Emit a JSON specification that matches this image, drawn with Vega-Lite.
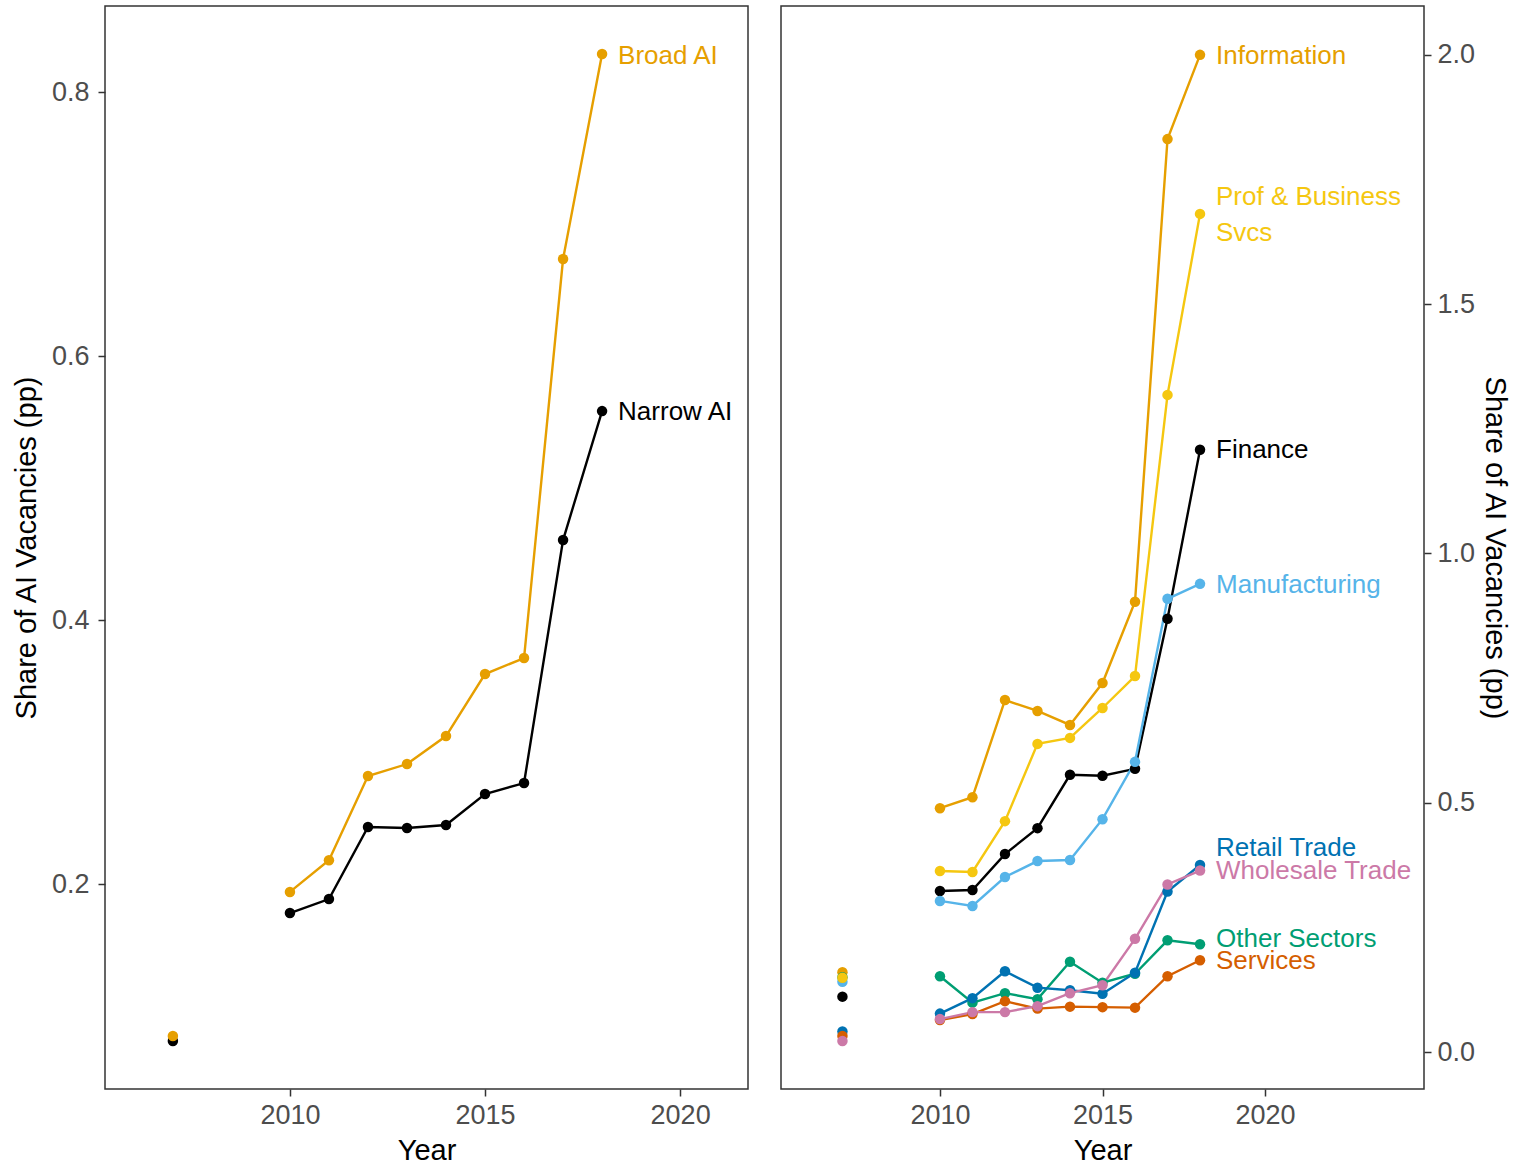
{
  "$schema": "https://vega.github.io/schema/vega-lite/v6.json",
  "padding": {"left": 11, "top": 5, "right": 0, "bottom": 0},
  "spacing": 31,
  "resolve": {"scale": {"color": "independent", "x": "independent", "y": "independent"}},
  "config": {
    "font": "Liberation Sans",
    "view": {"stroke": "#333333", "strokeWidth": 1.5},
    "axis": {
      "grid": false,
      "domain": false,
      "tickColor": "#333333",
      "tickWidth": 1.5,
      "tickSize": 7,
      "labelFont": "Liberation Sans",
      "labelFontSize": 27,
      "labelColor": "#4D4D4D",
      "labelPadding": 6,
      "titleFont": "Liberation Sans",
      "titleFontSize": 29,
      "titleFontWeight": "normal",
      "titleColor": "#000000"
    },
    "text": {"lineBreak": "\n"}
  },
  "datasets": {
    "left": [
      {"series": "Narrow AI", "year": 2007, "value": 0.0811},
      {"series": "Narrow AI", "year": 2010, "value": 0.178},
      {"series": "Narrow AI", "year": 2011, "value": 0.1886},
      {"series": "Narrow AI", "year": 2012, "value": 0.2432},
      {"series": "Narrow AI", "year": 2013, "value": 0.2424},
      {"series": "Narrow AI", "year": 2014, "value": 0.2447},
      {"series": "Narrow AI", "year": 2015, "value": 0.2682},
      {"series": "Narrow AI", "year": 2016, "value": 0.2765},
      {"series": "Narrow AI", "year": 2017, "value": 0.4606},
      {"series": "Narrow AI", "year": 2018, "value": 0.5583},
      {"series": "Broad AI", "year": 2007, "value": 0.0848},
      {"series": "Broad AI", "year": 2010, "value": 0.194},
      {"series": "Broad AI", "year": 2011, "value": 0.218},
      {"series": "Broad AI", "year": 2012, "value": 0.2818},
      {"series": "Broad AI", "year": 2013, "value": 0.2909},
      {"series": "Broad AI", "year": 2014, "value": 0.3121},
      {"series": "Broad AI", "year": 2015, "value": 0.3591},
      {"series": "Broad AI", "year": 2016, "value": 0.3712},
      {"series": "Broad AI", "year": 2017, "value": 0.6735},
      {"series": "Broad AI", "year": 2018, "value": 0.8288}
    ],
    "leftLabels": [
      {"series": "Narrow AI", "year": 2018, "labelValue": 0.5576, "label": "Narrow AI"},
      {"series": "Broad AI", "year": 2018, "labelValue": 0.8273, "label": "Broad AI"}
    ],
    "right": [
      {"series": "Finance", "year": 2007, "value": 0.111},
      {"series": "Finance", "year": 2010, "value": 0.323},
      {"series": "Finance", "year": 2011, "value": 0.325},
      {"series": "Finance", "year": 2012, "value": 0.397},
      {"series": "Finance", "year": 2013, "value": 0.449},
      {"series": "Finance", "year": 2014, "value": 0.556},
      {"series": "Finance", "year": 2015, "value": 0.554},
      {"series": "Finance", "year": 2016, "value": 0.568},
      {"series": "Finance", "year": 2017, "value": 0.869},
      {"series": "Finance", "year": 2018, "value": 1.208},
      {"series": "Information", "year": 2007, "value": 0.160},
      {"series": "Information", "year": 2010, "value": 0.489},
      {"series": "Information", "year": 2011, "value": 0.511},
      {"series": "Information", "year": 2012, "value": 0.706},
      {"series": "Information", "year": 2013, "value": 0.684},
      {"series": "Information", "year": 2014, "value": 0.656},
      {"series": "Information", "year": 2015, "value": 0.740},
      {"series": "Information", "year": 2016, "value": 0.903},
      {"series": "Information", "year": 2017, "value": 1.831},
      {"series": "Information", "year": 2018, "value": 2.0},
      {"series": "Manufacturing", "year": 2007, "value": 0.141},
      {"series": "Manufacturing", "year": 2010, "value": 0.303},
      {"series": "Manufacturing", "year": 2011, "value": 0.293},
      {"series": "Manufacturing", "year": 2012, "value": 0.351},
      {"series": "Manufacturing", "year": 2013, "value": 0.383},
      {"series": "Manufacturing", "year": 2014, "value": 0.385},
      {"series": "Manufacturing", "year": 2015, "value": 0.467},
      {"series": "Manufacturing", "year": 2016, "value": 0.582},
      {"series": "Manufacturing", "year": 2017, "value": 0.909},
      {"series": "Manufacturing", "year": 2018, "value": 0.939},
      {"series": "Other Sectors", "year": 2007, "value": 0.150},
      {"series": "Other Sectors", "year": 2010, "value": 0.152},
      {"series": "Other Sectors", "year": 2011, "value": 0.099},
      {"series": "Other Sectors", "year": 2012, "value": 0.118},
      {"series": "Other Sectors", "year": 2013, "value": 0.106},
      {"series": "Other Sectors", "year": 2014, "value": 0.181},
      {"series": "Other Sectors", "year": 2015, "value": 0.139},
      {"series": "Other Sectors", "year": 2016, "value": 0.157},
      {"series": "Other Sectors", "year": 2017, "value": 0.224},
      {"series": "Other Sectors", "year": 2018, "value": 0.216},
      {"series": "Prof & Business Svcs", "year": 2007, "value": 0.149},
      {"series": "Prof & Business Svcs", "year": 2010, "value": 0.363},
      {"series": "Prof & Business Svcs", "year": 2011, "value": 0.361},
      {"series": "Prof & Business Svcs", "year": 2012, "value": 0.463},
      {"series": "Prof & Business Svcs", "year": 2013, "value": 0.618},
      {"series": "Prof & Business Svcs", "year": 2014, "value": 0.630},
      {"series": "Prof & Business Svcs", "year": 2015, "value": 0.690},
      {"series": "Prof & Business Svcs", "year": 2016, "value": 0.754},
      {"series": "Prof & Business Svcs", "year": 2017, "value": 1.318},
      {"series": "Prof & Business Svcs", "year": 2018, "value": 1.681},
      {"series": "Retail Trade", "year": 2007, "value": 0.041},
      {"series": "Retail Trade", "year": 2010, "value": 0.077},
      {"series": "Retail Trade", "year": 2011, "value": 0.108},
      {"series": "Retail Trade", "year": 2012, "value": 0.162},
      {"series": "Retail Trade", "year": 2013, "value": 0.129},
      {"series": "Retail Trade", "year": 2014, "value": 0.124},
      {"series": "Retail Trade", "year": 2015, "value": 0.117},
      {"series": "Retail Trade", "year": 2016, "value": 0.159},
      {"series": "Retail Trade", "year": 2017, "value": 0.322},
      {"series": "Retail Trade", "year": 2018, "value": 0.375},
      {"series": "Services", "year": 2007, "value": 0.032},
      {"series": "Services", "year": 2010, "value": 0.064},
      {"series": "Services", "year": 2011, "value": 0.076},
      {"series": "Services", "year": 2012, "value": 0.102},
      {"series": "Services", "year": 2013, "value": 0.087},
      {"series": "Services", "year": 2014, "value": 0.091},
      {"series": "Services", "year": 2015, "value": 0.090},
      {"series": "Services", "year": 2016, "value": 0.089},
      {"series": "Services", "year": 2017, "value": 0.152},
      {"series": "Services", "year": 2018, "value": 0.184},
      {"series": "Wholesale Trade", "year": 2007, "value": 0.022},
      {"series": "Wholesale Trade", "year": 2010, "value": 0.066},
      {"series": "Wholesale Trade", "year": 2011, "value": 0.080},
      {"series": "Wholesale Trade", "year": 2012, "value": 0.080},
      {"series": "Wholesale Trade", "year": 2013, "value": 0.092},
      {"series": "Wholesale Trade", "year": 2014, "value": 0.118},
      {"series": "Wholesale Trade", "year": 2015, "value": 0.134},
      {"series": "Wholesale Trade", "year": 2016, "value": 0.227},
      {"series": "Wholesale Trade", "year": 2017, "value": 0.336},
      {"series": "Wholesale Trade", "year": 2018, "value": 0.364}
    ],
    "rightLabels": [
      {"series": "Finance", "year": 2018, "labelValue": 1.208, "label": "Finance"},
      {"series": "Information", "year": 2018, "labelValue": 1.998, "label": "Information"},
      {"series": "Manufacturing", "year": 2018, "labelValue": 0.937, "label": "Manufacturing"},
      {"series": "Other Sectors", "year": 2018, "labelValue": 0.2267, "label": "Other Sectors"},
      {"series": "Prof & Business Svcs", "year": 2018, "labelValue": 1.715, "label": "Prof & Business\nSvcs"},
      {"series": "Retail Trade", "year": 2018, "labelValue": 0.409, "label": "Retail Trade"},
      {"series": "Services", "year": 2018, "labelValue": 0.1825, "label": "Services"},
      {"series": "Wholesale Trade", "year": 2018, "labelValue": 0.363, "label": "Wholesale Trade"}
    ]
  },
  "hconcat": [
    {
      "width": 643,
      "height": 1083,
      "encoding": {
        "x": {
          "field": "year", "type": "quantitative", "title": "Year",
          "scale": {"domain": [2005.26, 2021.74], "nice": false, "zero": false},
          "axis": {"values": [2010, 2015, 2020], "format": "d", "titlePadding": 8}
        },
        "color": {
          "field": "series", "type": "nominal", "legend": null,
          "scale": {"domain": ["Narrow AI", "Broad AI"], "range": ["#000000", "#E69F00"]}
        }
      },
      "layer": [
        {
          "data": {"name": "left"},
          "transform": [{"filter": "datum.year >= 2010"}],
          "mark": {"type": "line", "strokeWidth": 2.4},
          "encoding": {
            "y": {
              "field": "value", "type": "quantitative", "title": "Share of AI Vacancies (pp)",
              "scale": {"domain": [0.0447, 0.8652], "nice": false, "zero": false},
              "axis": {"values": [0.2, 0.4, 0.6, 0.8], "format": ".1f", "labelPadding": 9, "titlePadding": 10}
            },
            "order": {"field": "year"}
          }
        },
        {
          "data": {"name": "left"},
          "mark": {"type": "circle", "size": 110, "opacity": 1},
          "encoding": {"y": {"field": "value", "type": "quantitative"}}
        },
        {
          "data": {"name": "leftLabels"},
          "mark": {"type": "text", "align": "left", "baseline": "middle", "dx": 16, "fontSize": 26},
          "encoding": {
            "y": {"field": "labelValue", "type": "quantitative"},
            "text": {"field": "label"}
          }
        }
      ]
    },
    {
      "width": 643,
      "height": 1083,
      "encoding": {
        "x": {
          "field": "year", "type": "quantitative", "title": "Year",
          "scale": {"domain": [2005.11, 2024.89], "nice": false, "zero": false},
          "axis": {"values": [2010, 2015, 2020], "format": "d", "titlePadding": 8}
        },
        "color": {
          "field": "series", "type": "nominal", "legend": null,
          "scale": {
            "domain": ["Finance", "Information", "Manufacturing", "Other Sectors", "Prof & Business Svcs", "Retail Trade", "Services", "Wholesale Trade"],
            "range": ["#000000", "#E69F00", "#56B4E9", "#009E73", "#F5C710", "#0072B2", "#D55E00", "#CC79A7"]
          }
        }
      },
      "layer": [
        {
          "data": {"name": "right"},
          "transform": [{"filter": "datum.year >= 2010"}],
          "mark": {"type": "line", "strokeWidth": 2.4},
          "encoding": {
            "y": {
              "field": "value", "type": "quantitative", "title": "Share of AI Vacancies (pp)",
              "scale": {"domain": [-0.0742, 2.098], "nice": false, "zero": false},
              "axis": {"orient": "right", "values": [0, 0.5, 1, 1.5, 2], "format": ".1f", "titlePadding": 5}
            },
            "order": {"field": "year"}
          }
        },
        {
          "data": {"name": "right"},
          "mark": {"type": "circle", "size": 110, "opacity": 1},
          "encoding": {"y": {"field": "value", "type": "quantitative"}}
        },
        {
          "data": {"name": "rightLabels"},
          "mark": {"type": "text", "align": "left", "baseline": "middle", "dx": 16, "fontSize": 26, "lineHeight": 36},
          "encoding": {
            "y": {"field": "labelValue", "type": "quantitative"},
            "text": {"field": "label"}
          }
        }
      ]
    }
  ]
}
